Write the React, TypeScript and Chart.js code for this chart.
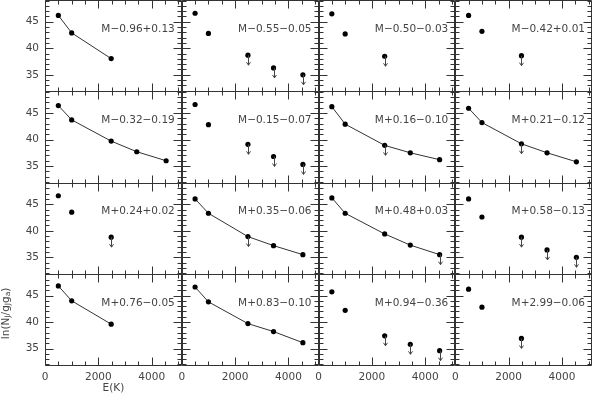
import { useEffect, useRef } from "react";
import { Chart, registerables } from "chart.js";

Chart.register(...registerables);

// Level energies E(K) shared by all panels
const energies = [500, 1000, 2480, 3440, 4540];
const xTickValues = [0, 2000, 4000];
const yTickValues = [35, 40, 45];

const panelLabels = [
  "M\u22120.96+0.13", "M\u22120.55\u22120.05", "M\u22120.50\u22120.03", "M\u22120.42+0.01",
  "M\u22120.32\u22120.19", "M\u22120.15\u22120.07", "M+0.16\u22120.10", "M+0.21\u22120.12",
  "M+0.24+0.02", "M+0.35\u22120.06", "M+0.48+0.03", "M+0.58\u22120.13",
  "M+0.76\u22120.05", "M+0.83\u22120.10", "M+0.94\u22120.36", "M+2.99\u22120.06",
];

// ln(N_J / g_J g_a) per panel (row, column)
const p11 = [46.2, 42.9, 38.05];
const p12 = [46.6, 42.8, 38.7, 36.3, 35.0];
const p13 = [46.5, 42.7, 38.5];
const p14 = [46.2, 43.2, 38.6];
const p21 = [46.4, 43.7, 39.7, 37.7, 36.0];
const p22 = [46.6, 42.8, 39.1, 36.8, 35.3];
const p23 = [46.2, 42.9, 38.9, 37.5, 36.2];
const p24 = [45.9, 43.2, 39.2, 37.5, 35.8];
const p31 = [46.6, 43.5, 38.8];
const p32 = [46.0, 43.3, 38.9, 37.2, 35.5];
const p33 = [46.2, 43.3, 39.4, 37.3, 35.5];
const p34 = [46.0, 42.6, 38.8, 36.4, 35.0];
const p41 = [46.8, 44.0, 39.6];
const p42 = [46.6, 43.8, 39.7, 38.2, 36.1];
const p43 = [45.7, 42.2, 37.4, 35.8, 34.6];
const p44 = [46.2, 42.8, 36.9];

// indices of points that are upper limits
const l11: number[] = [];
const l12 = [2, 3, 4];
const l13 = [2];
const l14 = [2];
const l21: number[] = [];
const l22 = [2, 3, 4];
const l23 = [2];
const l24 = [2];
const l31 = [2];
const l32 = [2];
const l33 = [4];
const l34 = [2, 3, 4];
const l41: number[] = [];
const l42: number[] = [];
const l43 = [2, 3, 4];
const l44 = [2];

// whether the points of a panel are joined by a line
const joined = [
  true, false, false, false,
  true, false, true, true,
  false, true, true, false,
  true, true, false, false,
];

const panelValues = [p11, p12, p13, p14, p21, p22, p23, p24, p31, p32, p33, p34, p41, p42, p43, p44];
const panelLimits = [l11, l12, l13, l14, l21, l22, l23, l24, l31, l32, l33, l34, l41, l42, l43, l44];

const X_MIN = 0;
const X_MAX = 5125;
const Y_MIN = 31.9;
const Y_MAX = 49.1;

const FONT = "'DejaVu Sans', sans-serif";
const INK = "#333";
const TEXT = "#444";

function zeroPadding(s: any) {
  s.paddingTop = 0;
  s.paddingBottom = 0;
  s.paddingLeft = 0;
  s.paddingRight = 0;
}

export default function App() {
  const ref = useRef<HTMLCanvasElement | null>(null);

  useEffect(() => {
    const canvas = ref.current;
    if (!canvas) return;

    const datasets = panelValues.map((vals, i) => {
      const r = Math.floor(i / 4) + 1;
      const c = (i % 4) + 1;
      return {
        label: panelLabels[i],
        data: vals.map((v, k) => ({ x: energies[k], y: v })),
        xAxisID: "x" + c,
        yAxisID: "y" + r,
        showLine: joined[i],
        borderColor: INK,
        borderWidth: 1,
        pointRadius: 2.6,
        pointBorderWidth: 0,
        pointBackgroundColor: "#000",
        backgroundColor: "#000",
      };
    });

    const scales: any = {};
    for (let r = 1; r <= 4; r++) {
      scales["y" + r] = {
        type: "linear",
        position: "left",
        stack: "rows",
        stackWeight: 1,
        weight: 10 - r,
        min: Y_MIN,
        max: Y_MAX,
        grid: { display: false, drawTicks: false },
        border: { display: false },
        afterBuildTicks: (s: any) => {
          s.ticks = yTickValues.map((v) => ({ value: v }));
        },
        afterFit: (s: any) => {
          s.width = 45;
          zeroPadding(s);
        },
        ticks: {
          padding: 6,
          color: TEXT,
          font: { family: FONT, size: 10.5 },
          callback: (v: any) => String(v),
        },
      };
    }
    for (let c = 1; c <= 4; c++) {
      scales["x" + c] = {
        type: "linear",
        position: "bottom",
        stack: "cols",
        stackWeight: 1,
        min: X_MIN,
        max: X_MAX,
        grid: { display: false, drawTicks: false },
        border: { display: false },
        afterBuildTicks: (s: any) => {
          s.ticks = xTickValues.map((v) => ({ value: v }));
        },
        afterFit: (s: any) => {
          s.height = 31;
          zeroPadding(s);
        },
        ticks: {
          padding: 6,
          maxRotation: 0,
          autoSkip: false,
          color: TEXT,
          font: { family: FONT, size: 10.5 },
          callback: (v: any) => String(v),
        },
      };
    }

    const panelPlugin = {
      id: "panels",
      afterDatasetsDraw(chart: any) {
        const ctx = chart.ctx as CanvasRenderingContext2D;
        ctx.save();
        for (let i = 0; i < 16; i++) {
          const r = Math.floor(i / 4) + 1;
          const c = (i % 4) + 1;
          const xs = chart.scales["x" + c];
          const ys = chart.scales["y" + r];
          const L = Math.round(xs.left) + 0.5;
          const R = Math.round(xs.right) - 0.5;
          const T = Math.round(ys.top) + 0.5;
          const B = Math.round(ys.bottom) + 0.5;

          ctx.strokeStyle = INK;
          ctx.lineWidth = 1;
          ctx.beginPath();
          ctx.rect(L, T, R - L, B - T);
          ctx.stroke();

          ctx.beginPath();
          for (let v = X_MIN; v <= X_MAX; v += 500) {
            const px = Math.round(xs.getPixelForValue(v)) + 0.5;
            const len = v % 2000 === 0 ? 8 : 4;
            ctx.moveTo(px, B);
            ctx.lineTo(px, B - len);
            ctx.moveTo(px, T);
            ctx.lineTo(px, T + len);
          }
          for (let v = Math.ceil(Y_MIN); v <= Y_MAX; v += 1) {
            const py = Math.round(ys.getPixelForValue(v)) + 0.5;
            const len = v % 5 === 0 ? 8 : 4;
            ctx.moveTo(L, py);
            ctx.lineTo(L + len, py);
            ctx.moveTo(R, py);
            ctx.lineTo(R - len, py);
          }
          ctx.stroke();

          // upper-limit arrows
          ctx.strokeStyle = "#444";
          ctx.beginPath();
          for (const k of panelLimits[i]) {
            const px = Math.round(xs.getPixelForValue(energies[k])) + 0.5;
            const py = ys.getPixelForValue(panelValues[i][k]);
            ctx.moveTo(px, py);
            ctx.lineTo(px, py + 10);
            ctx.moveTo(px - 2, py + 7);
            ctx.lineTo(px, py + 10);
            ctx.lineTo(px + 2, py + 7);
          }
          ctx.stroke();

          // panel label
          ctx.fillStyle = TEXT;
          ctx.font = `10.5px ${FONT}`;
          ctx.textAlign = "right";
          ctx.textBaseline = "middle";
          ctx.fillText(panelLabels[i], xs.right - 7, ys.getPixelForValue(43.6));
        }

        // x axis title under first column
        const x1 = chart.scales["x1"];
        ctx.fillStyle = TEXT;
        ctx.font = `10.5px ${FONT}`;
        ctx.textAlign = "center";
        ctx.textBaseline = "middle";
        ctx.fillText("E(K)", (x1.left + x1.right) / 2, 388);

        // y axis title beside bottom row, with subscripts
        const y4 = chart.scales["y4"];
        const cy = (y4.top + y4.bottom) / 2 - 6;
        ctx.translate(6, cy);
        ctx.rotate(-Math.PI / 2);
        const parts: [string, boolean][] = [
          ["ln(N", false], ["J", true], ["/g", false], ["J", true], ["g", false], ["a", true], [")", false],
        ];
        const big = `10.5px ${FONT}`;
        const small = `7.5px ${FONT}`;
        let total = 0;
        for (const [t, sub] of parts) {
          ctx.font = sub ? small : big;
          total += ctx.measureText(t).width;
        }
        let x = -total / 2;
        ctx.textAlign = "left";
        for (const [t, sub] of parts) {
          ctx.font = sub ? small : big;
          ctx.fillText(t, x, sub ? 2.5 : 0);
          x += ctx.measureText(t).width;
        }
        ctx.restore();
      },
    };

    const chart = new Chart(canvas, {
      type: "scatter",
      data: { datasets: datasets as any },
      options: {
        responsive: false,
        animation: false,
        layout: { autoPadding: false, padding: { top: 0, right: 1, left: 0, bottom: 0 } },
        plugins: {
          legend: { display: false },
          tooltip: { enabled: false },
        },
        scales,
      },
      plugins: [panelPlugin],
    });

    return () => chart.destroy();
  }, []);

  return (
    <div style={{ position: "fixed", left: 0, top: 0, width: 593, height: 396, background: "#fff" }}>
      <canvas ref={ref} width={593} height={396} style={{ display: "block" }} />
    </div>
  );
}
